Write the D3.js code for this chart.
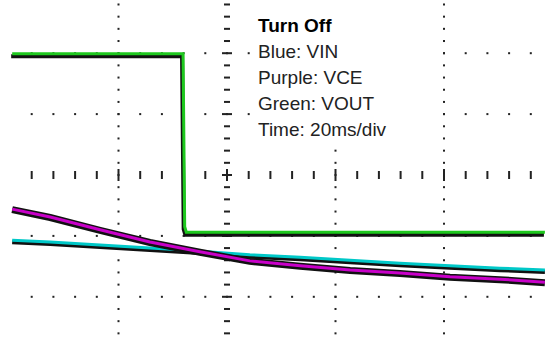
<!DOCTYPE html>
<html>
<head>
<meta charset="utf-8">
<script src="https://cdn.jsdelivr.net/npm/d3@7"></script>
<style>
  body { margin: 0; background: #fff; }
  svg { display: block; }
</style>
</head>
<body>
<div id="scope"></div>
<script>
// time in ms (20 ms/div), level in divisions from the centre line
const timeMs = [0.4, 7.4, 16.6, 25.8, 35.0, 44.2, 53.5, 62.7, 71.9, 81.1, 90.3, 98.6];
const vinDiv = [-1.07, -1.10, -1.15, -1.20, -1.25, -1.31, -1.35, -1.40, -1.45, -1.49, -1.53, -1.56];
const vceDiv = [-0.56, -0.69, -0.90, -1.10, -1.26, -1.41, -1.49, -1.56, -1.61, -1.67, -1.71, -1.76];
const voutTime = [0.4, 31.9, 32.2, 32.5, 98.6];
const voutDiv = [1.99, 1.99, -0.85, -0.94, -0.94];

const legendLines = ["Turn Off", "Blue: VIN", "Purple: VCE", "Green: VOUT", "Time: 20ms/div"];

const width = 545;
const height = 344;

const x = d3.scaleLinear().domain([0, 100]).range([10, 552.5]);
const y = d3.scaleLinear().domain([-3, 3]).range([357.7, -7.7]);

const svg = d3.select("#scope")
    .append("svg")
    .attr("width", width)
    .attr("height", height);

const grid = svg.append("g").attr("fill", "#222");

// dotted vertical division lines
[20, 60, 80].forEach(t => {
    grid.selectAll(null)
        .data(d3.range(-15, 16).map(k => k * 0.2))
        .enter()
        .append("rect")
        .attr("x", x(t) - 1)
        .attr("y", d => y(d) - 1)
        .attr("width", 2)
        .attr("height", 2);
});

// dotted horizontal division lines
[-2, -1, 1, 2].forEach(v => {
    grid.selectAll(null)
        .data(d3.range(1, 25).map(k => k * 4))
        .enter()
        .append("rect")
        .attr("x", d => x(d) - 1)
        .attr("y", y(v) - 1)
        .attr("width", 2)
        .attr("height", 2);
});

// centre horizontal axis: small vertical ticks
grid.selectAll(null)
    .data(d3.range(1, 25).map(k => k * 4))
    .enter()
    .append("rect")
    .attr("x", d => x(d) - 1)
    .attr("y", d => y(0) - (d % 20 === 0 ? 6 : 4))
    .attr("width", 2)
    .attr("height", d => d % 20 === 0 ? 12 : 8);

// centre vertical axis: small horizontal dashes
grid.selectAll(null)
    .data(d3.range(-15, 16))
    .enter()
    .append("rect")
    .attr("x", d => x(40) - (d % 5 === 0 ? 5 : 3))
    .attr("y", d => y(d * 0.2) - 1)
    .attr("width", d => d % 5 === 0 ? 10 : 6)
    .attr("height", 2);

// legend box
svg.append("rect")
    .attr("x", 252)
    .attr("y", 0)
    .attr("width", 188)
    .attr("height", 143)
    .attr("fill", "#fff");

svg.append("g")
    .selectAll("text")
    .data(legendLines)
    .enter()
    .append("text")
    .attr("x", 258)
    .attr("y", (d, i) => 32 + i * 26)
    .attr("font-family", "Liberation Sans, Arial, sans-serif")
    .attr("font-size", "19px")
    .attr("font-weight", (d, i) => i === 0 ? "bold" : "normal")
    .attr("fill", (d, i) => i === 0 ? "#000" : "#222")
    .text(d => d);

// traces (black shadow under each coloured trace)
const line = d3.line()
    .x(d => x(d[0]))
    .y(d => y(d[1]));

const traces = [
    { pts: d3.zip(timeMs, vinDiv), color: "#00c8c8", shadow: 4, dx: 0, dy: 2 },
    { pts: d3.zip(timeMs, vceDiv), color: "#c800c8", shadow: 7, dx: 0, dy: 0.5 },
    { pts: d3.zip(voutTime, voutDiv), color: "#1ec81e", shadow: 4, dx: -1, dy: 2.5 }
];

traces.forEach(tr => {
    svg.append("path")
        .attr("d", line(tr.pts))
        .attr("transform", `translate(${tr.dx}, ${tr.dy})`)
        .attr("fill", "none")
        .attr("stroke", "#111")
        .attr("stroke-width", tr.shadow);
    svg.append("path")
        .attr("d", line(tr.pts))
        .attr("fill", "none")
        .attr("stroke", tr.color)
        .attr("stroke-width", 3);
});
</script>
</body>
</html>
